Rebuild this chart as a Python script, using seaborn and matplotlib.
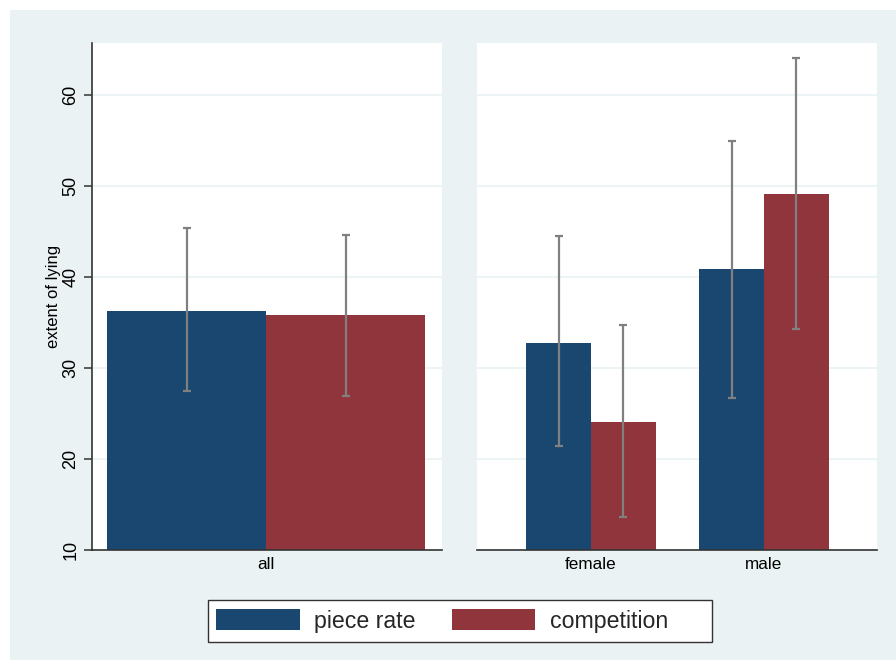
import matplotlib
matplotlib.use("Agg")
import matplotlib.pyplot as plt
import seaborn as sns
import pandas as pd
import numpy as np
from matplotlib.patches import Rectangle, Patch

# Mean extent of lying with confidence bounds, by treatment
treatments = ["piece rate", "competition"]

all_groups = ["all"]
all_mean = [36.3, 35.8]
all_low = [27.5, 26.9]
all_high = [45.4, 44.6]

sex_groups = ["female", "male"]
piece_mean = [32.8, 40.9]
piece_low = [21.4, 26.7]
piece_high = [44.5, 55.0]
comp_mean = [24.1, 49.2]
comp_low = [13.6, 34.3]
comp_high = [34.7, 64.1]

yticks = [10, 20, 30, 40, 50, 60]

navy = "#1a476f"
maroon = "#90353b"
bg = "#eaf2f3"
err_col = "#808080"

df_all = pd.DataFrame({
    "group": all_groups * 2,
    "treatment": treatments,
    "mean": all_mean,
    "low": all_low,
    "high": all_high,
})
df_sex = pd.DataFrame({
    "group": sex_groups * 2,
    "treatment": [treatments[0]] * 2 + [treatments[1]] * 2,
    "mean": piece_mean + comp_mean,
    "low": piece_low + comp_low,
    "high": piece_high + comp_high,
})

sns.set_theme(style="white")
plt.rcParams["font.family"] = ["Liberation Sans", "DejaVu Sans"]

W, H = 896, 660
fig = plt.figure(figsize=(W / 100, H / 100), dpi=100, facecolor="white")


def fx(px):
    return px / W


def fy(px):
    return 1 - px / H


# light graph region with a thin white margin on the top and left
fig.patches.append(Rectangle((fx(10), 0), 1 - fx(10), fy(10),
                             transform=fig.transFigure, facecolor=bg,
                             edgecolor="none", zorder=-5))

top, bottom = 43, 550
ax1 = fig.add_axes([fx(92), fy(bottom), fx(442) - fx(92), (bottom - top) / H])
ax2 = fig.add_axes([fx(477), fy(bottom), fx(877) - fx(477), (bottom - top) / H])

palette = {treatments[0]: navy, treatments[1]: maroon}


def draw_panel(ax, df, groups, width, xlim):
    sns.barplot(data=df, x="group", y="mean", hue="treatment", order=groups,
                hue_order=treatments, palette=palette, errorbar=None,
                width=width, gap=0, saturation=1, ax=ax, legend=False,
                edgecolor="none", zorder=2)
    for j, t in enumerate(treatments):
        sub = df[df["treatment"] == t].set_index("group").loc[groups]
        xs = np.arange(len(groups)) + (j - 0.5) * width / 2
        ax.errorbar(xs, sub["mean"],
                    yerr=[sub["mean"] - sub["low"], sub["high"] - sub["mean"]],
                    fmt="none", ecolor=err_col, elinewidth=1.6,
                    capsize=3, capthick=1.6, zorder=3)
    ax.set_xlim(*xlim)
    ax.set_ylim(10, 65.75)
    ax.set_yticks(yticks)
    ax.set_facecolor("white")
    ax.grid(axis="y", color=bg, linewidth=1.2, zorder=0)
    ax.set_axisbelow(True)
    ax.set_xlabel("")
    ax.tick_params(axis="x", length=0, labelsize=12.3, pad=5, colors="black")
    for s in ["top", "right"]:
        ax.spines[s].set_visible(False)
    ax.spines["bottom"].set_color("#333333")
    ax.spines["bottom"].set_linewidth(1.2)


draw_panel(ax1, df_all, all_groups, 0.9, (-0.4925, 0.498))
draw_panel(ax2, df_sex, sex_groups, 0.746, (-0.659, 1.653))

ax1.spines["left"].set_color("#333333")
ax1.spines["left"].set_linewidth(1.2)
ax1.tick_params(axis="y", left=True, length=6, width=1.1, color="#333333",
                labelsize=13, pad=3, labelcolor="black")
for lab in ax1.get_yticklabels():
    lab.set_rotation(90)
    lab.set_va("center")
ax1.set_ylabel("extent of lying", fontsize=12, labelpad=1, color="black")

ax2.spines["left"].set_visible(False)
ax2.tick_params(axis="y", left=False, labelleft=False)
ax2.set_ylabel("")

# legend box with equal-width key columns
fig.patches.append(Rectangle((fx(208), fy(642)), fx(712) - fx(208), (642 - 600) / H,
                             transform=fig.transFigure, facecolor="white",
                             edgecolor="#333333", linewidth=1.0, zorder=1))
handles = [Patch(facecolor=palette[t], edgecolor="none", label=t) for t in treatments]
leg = fig.legend(handles=handles, loc="center left",
                 bbox_to_anchor=(fx(208), fy(621)), borderaxespad=0,
                 ncol=2, fontsize=16.7, frameon=False,
                 handlelength=3.6, handleheight=1.0, handletextpad=0.63,
                 columnspacing=1.55, borderpad=0.35)
leg.set_zorder(2)

fig.savefig("out.png", dpi=100, facecolor="white")
